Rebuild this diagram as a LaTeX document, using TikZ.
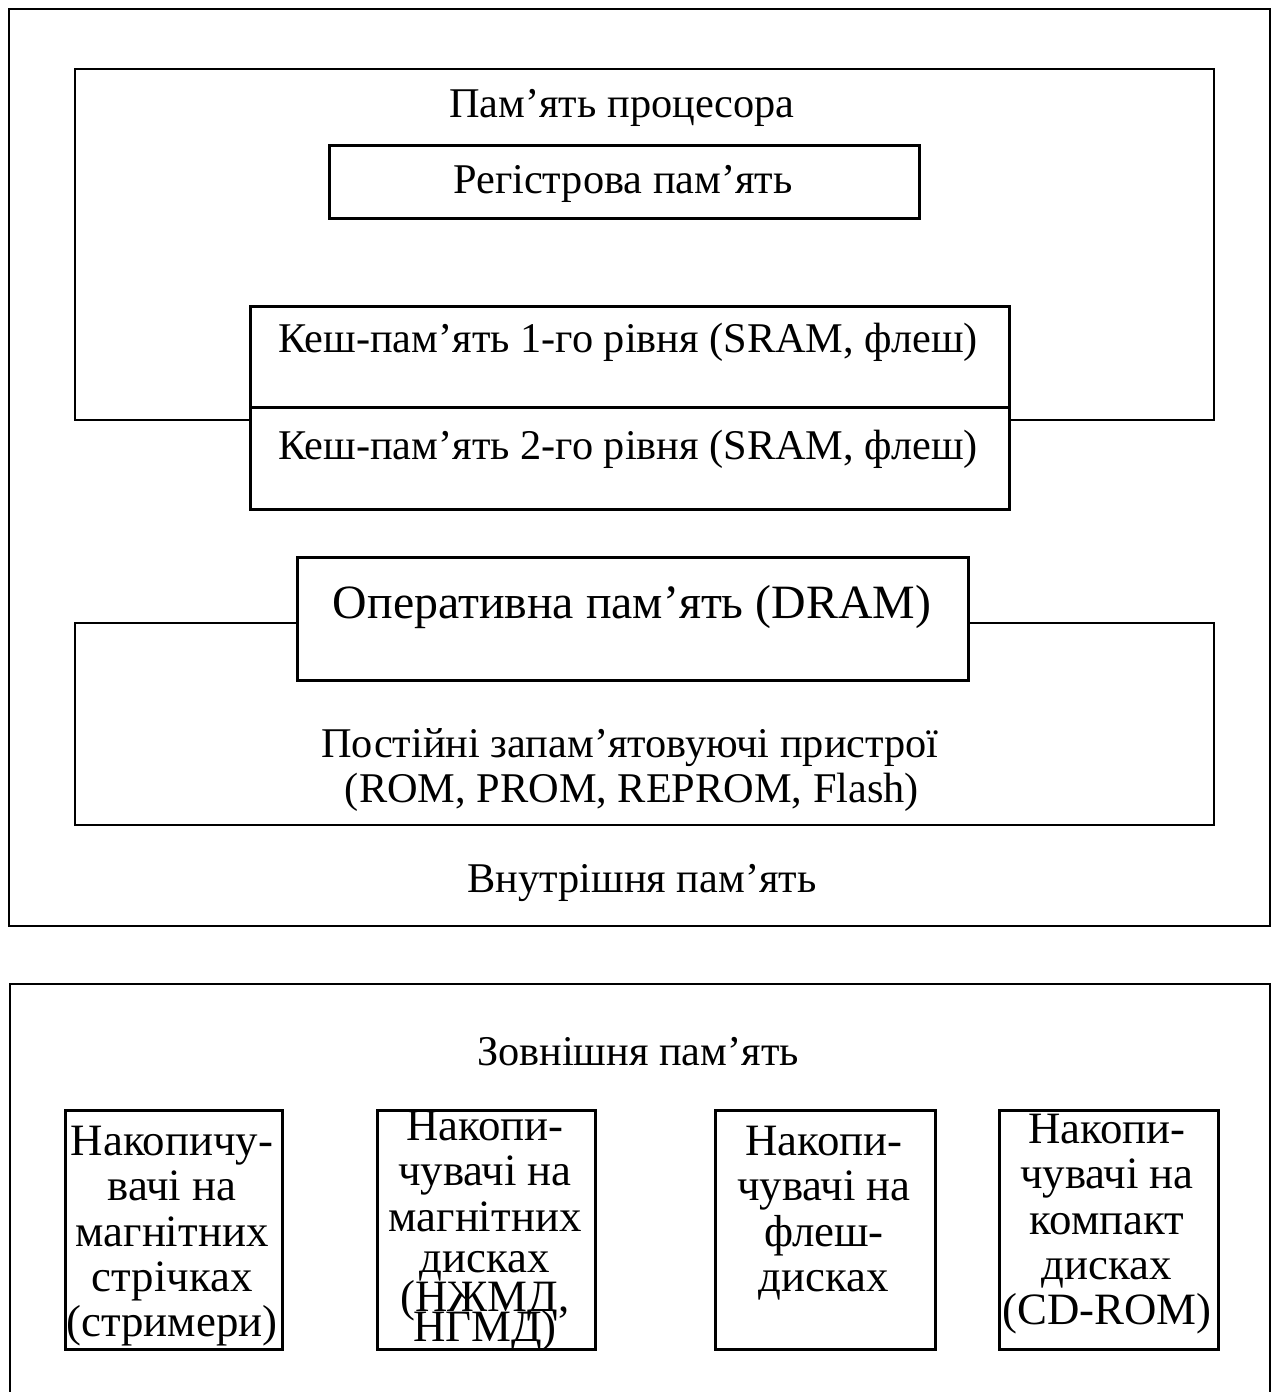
\documentclass[tikz,border=0pt]{standalone}
\usepackage{fontspec}
\setmainfont{Liberation Serif}
\begin{document}
\begin{tikzpicture}[x=1bp,y=-1bp,
  frame/.style={draw, line width=2bp, inner sep=0pt, anchor=north west},
  heavy/.style={draw, line width=3bp, fill=white, inner sep=0pt, anchor=north west},
  txt/.style={inner sep=0pt, anchor=base, font=\fontsize{42.5}{45}\selectfont},
  bigtxt/.style={inner sep=0pt, anchor=base, font=\fontsize{48}{50}\selectfont},
  drive/.style={inner sep=0pt, anchor=north, align=center, font=\fontsize{45}{45.5}\selectfont}]
\useasboundingbox (0,0) rectangle (1274,1392);
\clip (0,0) rectangle (1274,1392);

% internal memory frame
\node[frame, minimum width=1261bp, minimum height=917bp] (internal) at (8,8) {};
% processor memory
\node[frame, minimum width=1139bp, minimum height=351bp] (cpu) at (74,68) {};
\node[heavy, minimum width=590bp, minimum height=73bp] (reg) at (328,144) {};
% ROM block
\node[frame, minimum width=1139bp, minimum height=202bp] (rom) at (74,622) {};
% cache levels
\node[heavy, minimum width=759bp, minimum height=101bp] (l1) at (249,305) {};
\node[heavy, minimum width=759bp, minimum height=102bp] (l2) at (249,406) {};
% main memory
\node[heavy, minimum width=671bp, minimum height=123bp] (dram) at (296,556) {};

% external memory frame
\node[frame, minimum width=1260bp, minimum height=430bp] (external) at (9,983) {};
\node[heavy, minimum width=217bp, minimum height=239bp] (d1) at (64,1109) {};
\node[heavy, minimum width=218bp, minimum height=239bp] (d2) at (376,1109) {};
\node[heavy, minimum width=220bp, minimum height=239bp] (d3) at (714,1109) {};
\node[heavy, minimum width=219bp, minimum height=239bp] (d4) at (998,1109) {};

% labels
\node[txt] (cpuT) at (622,118) {Пам’ять процесора};
\node[txt] (regT) at (623,194) {Регістрова пам’ять};
\node[txt] (l1T) at (628,352) {Кеш-пам’ять 1-го рівня (SRAM, флеш)};
\node[txt] (l2T) at (628,459) {Кеш-пам’ять 2-го рівня (SRAM, флеш)};
\node[bigtxt] (dramT) at (632,618) {Оперативна пам’ять (DRAM)};
\node[txt] (romT1) at (630,757) {Постійні запам’ятовуючі пристрої};
\node[txt] (romT2) at (632,802) {(ROM, PROM, REPROM, Flash)};
\node[txt] (internalT) at (642,892) {Внутрішня пам’ять};
\node[txt] (externalT) at (638,1065) {Зовнішня пам’ять};

\node[drive] (d1T) at (172,1126) {Накопичу-\\вачі на\\магнітних\\стрічках\\(стримери)};
\node[drive] (d2T) at (485,1111) {Накопи-\\чувачі на\\магнітних\\[-4bp]дисках\\[-6bp](НЖМД,\\[-16bp]НГМД)};
\node[drive] (d3T) at (824,1126) {Накопи-\\чувачі на\\флеш-\\дисках};
\node[drive] (d4T) at (1107,1114) {Накопи-\\чувачі на\\компакт\\дисках\\(CD-ROM)};
\end{tikzpicture}
\end{document}
